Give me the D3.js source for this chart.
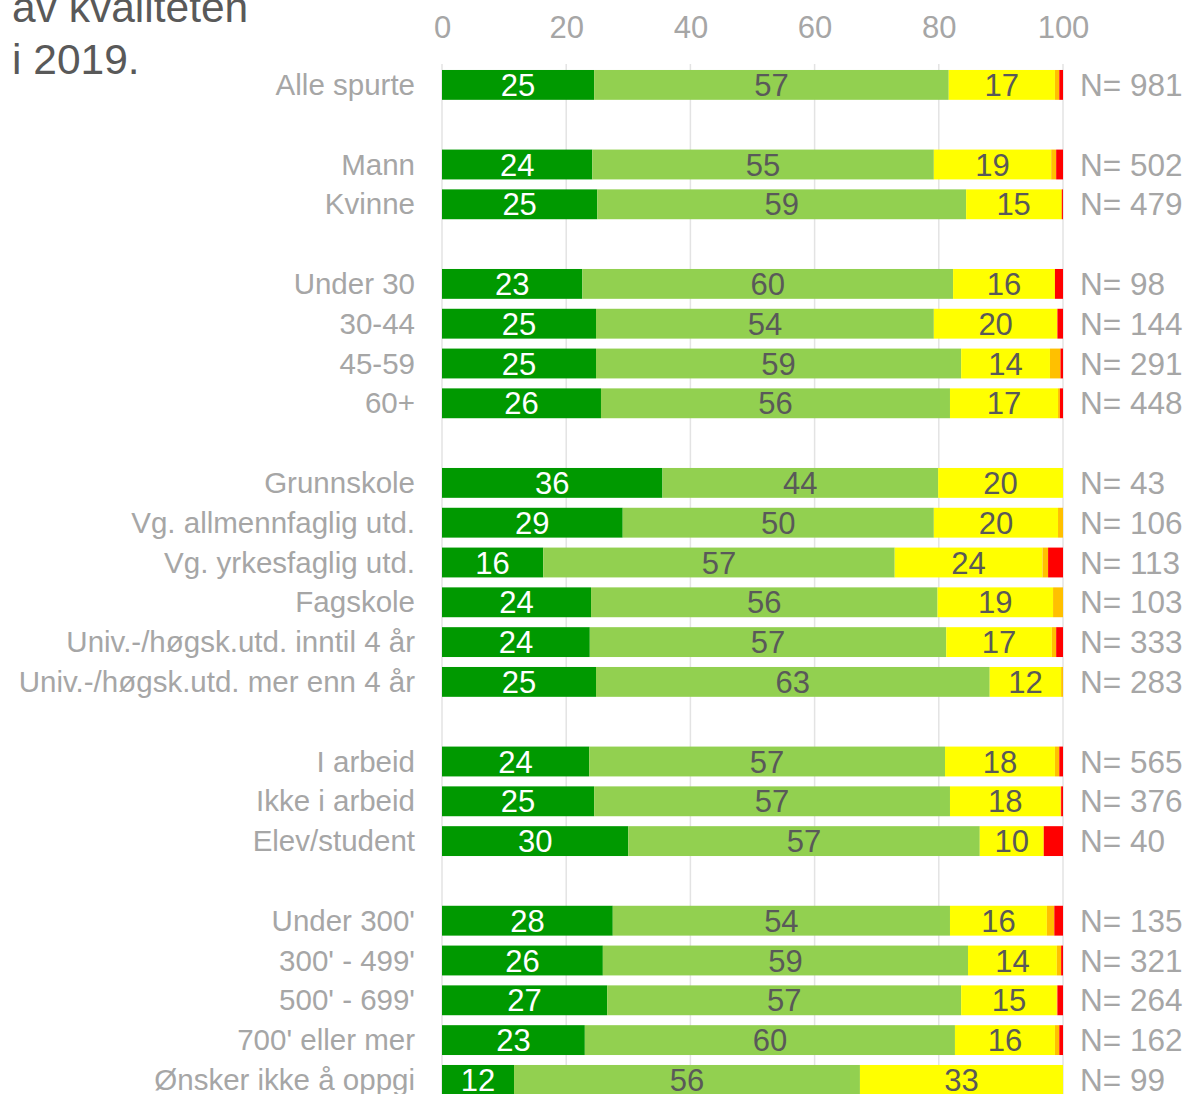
<!DOCTYPE html>
<html>
<head>
<meta charset="utf-8">
<script src="https://cdn.jsdelivr.net/npm/d3@7"></script>
<style>
body{margin:0;background:#fff;}
svg text{font-family:"Liberation Sans",Arial,sans-serif;}
</style>
</head>
<body>
<script>
// rows in display order, "" = empty spacer row between groups
var categories = ["Alle spurte", "",
  "Mann", "Kvinne", "",
  "Under 30", "30-44", "45-59", "60+", "",
  "Grunnskole", "Vg. allmennfaglig utd.", "Vg. yrkesfaglig utd.", "Fagskole",
  "Univ.-/høgsk.utd. inntil 4 år", "Univ.-/høgsk.utd. mer enn 4 år", "",
  "I arbeid", "Ikke i arbeid", "Elev/student", "",
  "Under 300'", "300' - 499'", "500' - 699'", "700' eller mer", "Ønsker ikke å oppgi"];

// percent shares per row (spacer rows = null)
var veldigGod = [24.5, null, 24.2, 25.0, null, 22.6, 24.8, 24.8, 25.6, null, 35.5, 29.1, 16.3, 24.0, 23.8, 24.8, null, 23.7, 24.5, 30.0, null, 27.5, 25.9, 26.6, 23.0, 11.6];
var god       = [57.1, null, 55.0, 59.4, null, 59.7, 54.4, 58.8, 56.2, null, 44.4, 50.1, 56.6, 55.8, 57.4, 63.4, null, 57.3, 57.3, 56.6, null, 54.3, 58.8, 57.0, 59.6, 55.7];
var middels   = [17.1, null, 18.9, 15.3, null, 16.4, 19.9, 14.3, 17.4, null, 20.1, 20.0, 23.8, 18.6, 17.0, 11.5, null, 17.7, 17.8, 10.3, null, 15.6, 14.3, 15.4, 16.1, 32.7];
var daarlig   = [0.7, null, 0.8, 0.15, null, 0, 0, 1.7, 0.3, null, 0, 0.8, 0.9, 1.6, 0.7, 0.3, null, 0.7, 0.1, 0, null, 1.2, 0.7, 0.1, 0.7, 0];
var veldigDaarlig = [0.6, null, 1.1, 0.15, null, 1.3, 0.9, 0.4, 0.5, null, 0, 0, 2.4, 0, 1.1, 0, null, 0.6, 0.3, 3.1, null, 1.4, 0.3, 0.9, 0.6, 0];
var nValues   = [981, null, 502, 479, null, 98, 144, 291, 448, null, 43, 106, 113, 103, 333, 283, null, 565, 376, 40, null, 135, 321, 264, 162, 99];
var xTicks = [0, 20, 40, 60, 80, 100];
var titleLines = ["av kvaliteten", "i 2019."];

var series = [veldigGod, god, middels, daarlig, veldigDaarlig];
var colors = ["#009900", "#92d050", "#ffff00", "#ffc000", "#ff0000"];
var textColors = ["#ffffff", "#595959", "#595959", "#595959", "#595959"];

var width = 1189, height = 1094;
var svg = d3.select("body").append("svg")
    .attr("width", width)
    .attr("height", height);

var rowKeys = categories.map(function(c, i){ return i; });
var x = d3.scaleLinear().domain([0, 100]).range([442, 1063]);
var y = d3.scaleBand().domain(rowKeys)
    .range([65, 65 + 26 * 39.8])
    .paddingInner(0.25).paddingOuter(0.125);

// title (upper lines are cut off in the source)
svg.selectAll("text.title").data(titleLines).enter().append("text")
    .attr("class", "title")
    .attr("x", 12)
    .attr("y", function(d, i){ return 22 + i * 52; })
    .attr("font-size", 42.5)
    .attr("fill", "#595959")
    .text(function(d){ return d; });

// gridlines
svg.append("g").selectAll("line").data(xTicks).enter().append("line")
    .attr("x1", function(d){ return x(d); })
    .attr("x2", function(d){ return x(d); })
    .attr("y1", 64)
    .attr("y2", height)
    .attr("stroke", "#e3e3e3")
    .attr("stroke-width", 1.5);

// top axis
var xAxis = d3.axisTop(x).tickValues(xTicks).tickSize(0).tickPadding(0);
var ax = svg.append("g").attr("transform", "translate(0,38)").call(xAxis);
ax.select(".domain").remove();
ax.selectAll("text")
    .attr("font-size", 31)
    .attr("fill", "#a6a6a6")
    .style("font-family", "Liberation Sans, Arial, sans-serif");

// stacked bars
var rows = [];
categories.forEach(function(c, i){
    if (c === "") return;
    var start = 0;
    series.forEach(function(s, k){
        rows.push({row: i, k: k, x0: start, x1: start + s[i]});
        start += s[i];
    });
});

svg.append("g").selectAll("rect").data(rows).enter().append("rect")
    .attr("x", function(d){ return x(d.x0); })
    .attr("y", function(d){ return y(d.row); })
    .attr("width", function(d){ return Math.max(0, x(d.x1) - x(d.x0)); })
    .attr("height", y.bandwidth())
    .attr("fill", function(d){ return colors[d.k]; });

svg.append("g").selectAll("text").data(rows.filter(function(d){ return d.x1 - d.x0 >= 5; }))
    .enter().append("text")
    .attr("x", function(d){ return x((d.x0 + d.x1) / 2); })
    .attr("y", function(d){ return y(d.row) + y.bandwidth() / 2 + 11; })
    .attr("text-anchor", "middle")
    .attr("font-size", 31)
    .attr("fill", function(d){ return textColors[d.k]; })
    .text(function(d){ return Math.round(d.x1 - d.x0); });

// category labels
svg.append("g").selectAll("text").data(rowKeys.filter(function(i){ return categories[i] !== ""; }))
    .enter().append("text")
    .attr("x", 415)
    .attr("y", function(i){ return y(i) + y.bandwidth() / 2 + 10; })
    .attr("text-anchor", "end")
    .attr("font-size", 29.5)
    .attr("fill", "#a6a6a6")
    .text(function(i){ return categories[i]; });

// N labels
svg.append("g").selectAll("text").data(rowKeys.filter(function(i){ return categories[i] !== ""; }))
    .enter().append("text")
    .attr("x", 1080)
    .attr("y", function(i){ return y(i) + y.bandwidth() / 2 + 11; })
    .attr("font-size", 31.5)
    .attr("fill", "#a6a6a6")
    .text(function(i){ return "N= " + nValues[i]; });
</script>
</body>
</html>
